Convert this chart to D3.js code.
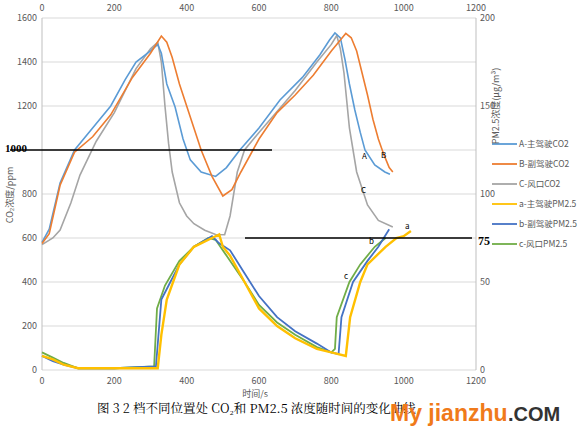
<!DOCTYPE html><html><head><meta charset="utf-8">
<script src="https://cdn.jsdelivr.net/npm/d3@7"></script>
<style>body{margin:0;background:#fff}</style></head><body><svg id="c" width="582" height="435"></svg>
<script>
const xTicks=[0,200,400,600,800,1000,1200];
const yTicks=[0,200,400,600,800,1000,1200,1400,1600];
const y2Ticks=[0,50,100,150,200];
const seriesNames=["A-主驾驶CO2","B-副驾驶CO2","C-风口CO2","a-主驾驶PM2.5","b-副驾驶PM2.5","c-风口PM2.5"];
const colors=["#5b9bd5","#ed7d31","#a5a5a5","#ffc000","#4472c4","#70ad47"];
const A=[[0,580],[20,640],[50,850],[90,1000],[140,1100],[190,1200],[230,1320],[260,1400],[300,1450],[320,1480],[330,1440],[345,1300],[368,1195],[390,1050],[410,955],[440,900],[480,880],[510,920],[547,1000],[600,1100],[658,1227],[720,1330],[768,1432],[795,1500],[810,1532],[825,1510],[838,1409],[850,1300],[865,1182],[880,1080],[893,1000],[920,932],[948,900],[962,890]];
const B=[[0,575],[20,620],[50,840],[90,990],[140,1060],[190,1160],[250,1330],[300,1440],[330,1518],[345,1490],[360,1420],[380,1300],[400,1200],[420,1100],[440,1000],[470,880],[500,791],[525,820],[550,900],[600,1050],[650,1170],[700,1250],[750,1340],[800,1450],[825,1500],[840,1530],[855,1510],[870,1450],[885,1350],[900,1250],[915,1140],[930,1050],[945,980],[960,920],[970,900]];
const C=[[0,570],[30,600],[50,636],[80,760],[105,886],[150,1040],[200,1170],[260,1370],[300,1460],[320,1490],[330,1400],[340,1200],[350,1030],[360,900],[380,760],[400,700],[420,665],[450,635],[480,616],[505,615],[520,700],[540,900],[560,1000],[600,1080],[700,1270],[760,1400],[800,1480],[815,1520],[825,1460],[835,1350],[850,1100],[870,900],[900,750],[930,680],[970,650]];
const a=[[0,8],[30,6],[60,3],[100,1],[200,1],[320,1],[330,20],[345,40],[380,60],[420,70],[470,75],[490,77],[500,70],[520,65],[560,50],[600,35],[650,25],[700,18],[760,12],[800,10],[840,8],[852,30],[880,50],[900,60],[950,70],[980,75],[1000,76],[1020,79]];
const b=[[0,8],[30,5],[60,3],[100,1],[200,1],[315,2],[330,40],[350,48],[380,60],[420,70],[470,76],[490,72],[520,68],[560,55],[600,42],[650,30],[700,22],[760,15],[800,10],[820,9],[828,30],[860,50],[900,62],[930,70],[960,80]];
const c=[[0,10],[30,7],[60,4],[100,1],[200,1],[310,2],[318,35],[340,48],[380,62],[420,70],[460,75],[480,74],[510,65],[560,50],[600,37],[650,27],[700,20],[760,13],[800,10],[810,12],[815,30],[850,50],[880,60],[920,70],[950,75]];
const svg=d3.select("#c");
const x=d3.scaleLinear([0,1200],[42,476]);
const y=d3.scaleLinear([0,1600],[370,18]);
const y2=d3.scaleLinear([0,200],[370,18]);
const ff="Microsoft YaHei, Noto Sans CJK SC, sans-serif";
svg.append("g").selectAll("line").data(yTicks).join("line").attr("x1",42).attr("x2",476).attr("y1",d=>y(d)).attr("y2",d=>y(d)).attr("stroke","#d9d9d9");
svg.append("line").attr("x1",42).attr("x2",42).attr("y1",18).attr("y2",370).attr("stroke","#bfbfbf");
svg.append("line").attr("x1",476).attr("x2",476).attr("y1",18).attr("y2",370).attr("stroke","#bfbfbf");
const tx=(yy)=>svg.append("g").selectAll("text").data(xTicks).join("text").attr("x",d=>x(d)).attr("y",yy).attr("text-anchor","middle").attr("font-size",9).attr("fill","#595959").attr("font-family",ff).text(d=>d);
tx(11);tx(384);
svg.append("g").selectAll("text").data(yTicks).join("text").attr("x",37).attr("y",d=>y(d)+3).attr("text-anchor","end").attr("font-size",9).attr("fill","#595959").attr("font-family",ff).text(d=>d===1000?"":d);
svg.append("g").selectAll("text").data(y2Ticks).join("text").attr("x",480).attr("y",d=>y2(d)+3).attr("font-size",9).attr("fill","#595959").attr("font-family",ff).text(d=>d);
const lineC=d3.line().x(d=>x(d[0])).y(d=>y(d[1]));
const lineP=d3.line().x(d=>x(d[0])).y(d=>y2(d[1]));
[C,A,B].forEach((s,i)=>{const idx=[2,0,1][i];svg.append("path").attr("d",lineC(s)).attr("fill","none").attr("stroke",colors[idx]).attr("stroke-width",1.6);});
[c,b,a].forEach((s,i)=>{const idx=[5,4,3][i];svg.append("path").attr("d",lineP(s)).attr("fill","none").attr("stroke",colors[idx]).attr("stroke-width",idx==3?2.4:1.8);});
svg.append("line").attr("x1",10).attr("x2",272).attr("y1",y(1000)).attr("y2",y(1000)).attr("stroke","#000").attr("stroke-width",1.3);
svg.append("line").attr("x1",245).attr("x2",472).attr("y1",y2(75)).attr("y2",y2(75)).attr("stroke","#000").attr("stroke-width",1.3);
svg.append("text").attr("x",5).attr("y",y(1000)+2).attr("font-size",11).attr("font-weight","bold").attr("font-family","Liberation Serif, serif").text("1000");
svg.append("text").attr("x",478).attr("y",y2(75)+7).attr("font-size",12).attr("font-weight","bold").attr("font-family","Liberation Serif, serif").text("75");
[["A",362,159],["B",381,158],["C",361,193],["a",405,229],["b",369,244],["c",344,279]].forEach(t=>svg.append("text").attr("x",t[1]).attr("y",t[2]).attr("font-size",8).attr("font-family",ff).text(t[0]));
const lg=svg.append("g");
seriesNames.forEach((n,i)=>{const yy=144+i*20;lg.append("line").attr("x1",492).attr("x2",517).attr("y1",yy).attr("y2",yy).attr("stroke",colors[i]).attr("stroke-width",1.8);lg.append("text").attr("x",519).attr("y",yy+3).attr("font-size",8.5).attr("fill","#595959").attr("font-family",ff).text(n);});
svg.append("text").attr("transform","translate(13,195) rotate(-90)").attr("text-anchor","middle").attr("font-size",9).attr("fill","#595959").attr("font-family",ff).text("CO₂浓度/ppm");
svg.append("text").attr("transform","translate(499,106) rotate(-90)").attr("text-anchor","middle").attr("font-size",9).attr("fill","#595959").attr("font-family",ff).text("PM2.5浓度(μg/m³)");
svg.append("text").attr("x",255).attr("y",397).attr("text-anchor","middle").attr("font-size",9).attr("fill","#595959").attr("font-family",ff).text("时间/s");
svg.append("text").attr("x",97).attr("y",413).attr("font-size",12.5).attr("font-family","Noto Serif CJK SC, Noto Sans CJK SC, serif").text("图 3 2 档不同位置处 CO₂和 PM2.5 浓度随时间的变化曲线");
svg.append("text").attr("x",390).attr("y",421).attr("font-size",23).attr("font-weight","bold").attr("fill","#f07a1a").attr("font-family","Arial, Liberation Sans, sans-serif").text("My jianzhu");
svg.append("text").attr("x",508).attr("y",421).attr("font-size",20).attr("font-weight","bold").attr("fill","#333").attr("font-family","Arial, Liberation Sans, sans-serif").text(".COM");
</script></body></html>
